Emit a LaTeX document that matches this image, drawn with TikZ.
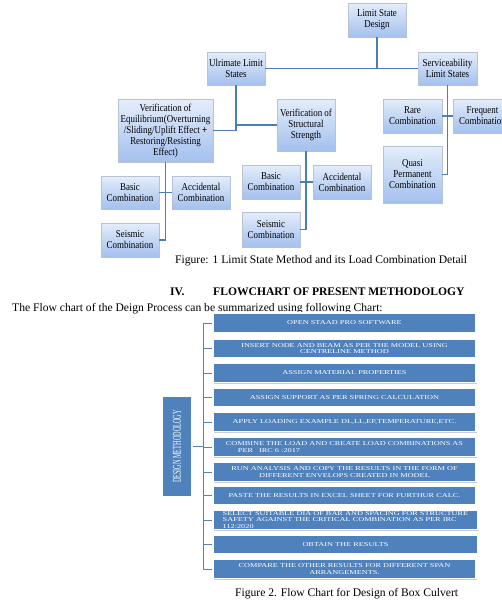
\documentclass[tikz,border=0pt]{standalone}
\usepackage{fontspec}
\setmainfont{Liberation Serif}
\newfontfamily\condfont[FakeStretch=0.85]{Liberation Serif}
\newfontfamily\widefont[FakeStretch=1.38]{Liberation Serif}
\newfontfamily\narrowfont[FakeStretch=0.52]{Liberation Serif}
\usetikzlibrary{shadows}
\definecolor{conn}{HTML}{4A7EBB}
\definecolor{boxtop}{HTML}{E4EDFB}
\definecolor{boxbot}{HTML}{A3C0EE}
\definecolor{boxedge}{HTML}{B7C3D3}
\definecolor{flowblue}{HTML}{4F81BD}
\definecolor{flowline}{HTML}{5B7FB6}
\begin{document}
\begin{tikzpicture}[x=1pt,y=-1pt,
  topbox/.style={draw=boxedge, line width=0.8pt, top color=boxtop, bottom color=boxbot,
    inner sep=0pt, align=center, font=\condfont\fontsize{10.5}{11}\selectfont,
    drop shadow={shadow xshift=1.2pt, shadow yshift=-1.2pt, fill=black, opacity=0.25}},
  treeconn/.style={draw=conn, line width=1.3pt},
  flowbox/.style={fill=flowblue, draw=white, line width=1.2pt, minimum width=263pt,
    minimum height=19pt, inner sep=0pt, text=white, align=center,
    font=\widefont\fontsize{6}{6.7}\selectfont,
    drop shadow={shadow xshift=1pt, shadow yshift=-1pt, fill=black, opacity=0.2}},
  flowconn/.style={draw=flowline, line width=1pt},
  plain/.style={inner sep=0pt, anchor=base west, font=\fontsize{11.6}{13}\selectfont}
]
\path[use as bounding box] (0,0) rectangle (502,603);
\clip (0,0) rectangle (502,603);
\fill[white] (0,0) rectangle (502,603);

% ---- Figure 1 tree ----
\node[topbox, minimum width=58pt, minimum height=34pt] (lsd) at (377,20) {Limit State\\Design};
\node[topbox, minimum width=58pt, minimum height=33pt] (uls) at (236,68.5) {Ulrimate Limit\\States};
\node[topbox, minimum width=59pt, minimum height=33pt] (sls) at (447.5,68.5) {Serviceability\\Limit States};
\node[topbox, minimum width=95pt, minimum height=63pt] (voe) at (165.5,130.5)
  {Verification of\\Equilibrium(Overturning\\/Sliding/Uplift Effect \textbf{+}\\Restoring/Resisting\\Effect)};
\node[topbox, minimum width=58pt, minimum height=52pt] (vss) at (306,125) {Verification of\\Structural\\Strength};
\node[topbox, minimum width=58pt, minimum height=33pt] (basic1) at (130,192.5) {Basic\\Combination};
\node[topbox, minimum width=58pt, minimum height=33pt] (acc1) at (201,192.5) {Accidental\\Combination};
\node[topbox, minimum width=58pt, minimum height=34pt] (seis1) at (130,240) {Seismic\\Combination};
\node[topbox, minimum width=58pt, minimum height=34pt] (basic2) at (271,182) {Basic\\Combination};
\node[topbox, minimum width=58pt, minimum height=34pt] (acc2) at (342,182) {Accidental\\Combination};
\node[topbox, minimum width=58pt, minimum height=35pt] (seis2) at (271,229.5) {Seismic\\Combination};
\node[topbox, minimum width=59pt, minimum height=34pt] (rare) at (412.5,116) {Rare\\Combination};
\node[topbox, minimum width=59pt, minimum height=34pt] (freq) at (482.5,116) {Frequent\\Combination};
\node[topbox, minimum width=59pt, minimum height=57pt] (quasi) at (412.5,174.5) {Quasi\\Permanent\\Combination};

\draw[treeconn] (uls.east) -- (sls.west);
\draw[treeconn] (lsd.south) -- (lsd.south |- uls.east);
\draw[treeconn] (uls.south) |- (voe.east);
\draw[treeconn] (uls.south |- vss.west) -- (vss.west);
\draw[treeconn] (voe.south) |- (seis1.east);
\draw[treeconn] (basic1.east) -- (acc1.west);
\draw[treeconn] (vss.south) |- (seis2.east);
\draw[treeconn] (basic2.east) -- (acc2.west);
\draw[treeconn] (sls.south) |- (quasi.east);
\draw[treeconn] (rare.east) -- (freq.west);

\node[plain] (cap1) at (175,263) {Figure: 1 Limit State Method and its Load Combination Detail};

% ---- Section heading ----
\node[plain, font=\bfseries\fontsize{11.6}{13}\selectfont] (secnum) at (170,295) {IV.};
\node[plain, font=\bfseries\fontsize{11.6}{13}\selectfont] (sectitle) at (213,295) {FLOWCHART OF PRESENT METHODOLOGY};
\node[plain] (para) at (12,311) {The Flow chart of the Deign Process can be summarized using following Chart:};

% ---- Figure 2 flow chart ----
\node[flowbox, minimum height=20pt] (f1) at (344.5,323) {OPEN STAAD PRO SOFTWARE};
\node[flowbox] (f2) at (344.5,348.5) {INSERT NODE AND BEAM AS PER THE MODEL USING\\CENTRELINE METHOD};
\node[flowbox] (f3) at (344.5,373) {ASSIGN MATERIAL PROPERTIES};
\node[flowbox] (f4) at (344.5,397.5) {ASSIGN SUPPORT AS PER SPRING CALCULATION};
\node[flowbox] (f5) at (344.5,422) {APPLY LOADING EXAMPLE DL,LL,EP,TEMPERATURE,ETC.};
\node[flowbox, align=left] (f6) at (344.5,447) {COMBINE THE LOAD AND CREATE LOAD COMBINATIONS AS\\\hspace*{12pt}PER\quad IRC 6 :2017};
\node[flowbox] (f7) at (344.5,472) {RUN ANALYSIS AND COPY THE RESULTS IN THE FORM OF\\DIFFERENT ENVELOPS CREATED IN MODEL};
\node[flowbox] (f8) at (344.5,495.5) {PASTE THE RESULTS IN EXCEL SHEET FOR FURTHUR CALC.};
\node[flowbox, align=left, minimum width=265pt] (f9) at (345.5,520) {SELECT SUITABLE DIA OF BAR AND SPACING FOR STRUCTURE\\SAFETY AGAINST THE CRITICAL COMBINATION AS PER IRC\\112:2020};
\node[flowbox, minimum width=265pt] (f10) at (345.5,544.5) {OBTAIN THE RESULTS};
\node[flowbox] (f11) at (344.5,569) {COMPARE THE OTHER RESULTS FOR DIFFERENT SPAN\\ARRANGEMENTS.};

\node[flowbox, minimum width=30pt, minimum height=101pt] (dm) at (177,446.5)
  {\rotatebox{90}{\narrowfont\fontsize{12}{12}\selectfont DESIGN METHODOLOGY}};

\coordinate (spine) at (203,0);
\draw[flowconn] (f1.west -| spine) -- (f11.west -| spine);
\foreach \i in {1,...,11} \draw[flowconn] (f\i.west -| spine) -- (f\i.west);
\draw[flowconn] (dm.east) -- (dm.east -| spine);

\node[plain] (cap2) at (235,596) {Figure 2. Flow Chart for Design of Box Culvert};
\end{tikzpicture}
\end{document}
